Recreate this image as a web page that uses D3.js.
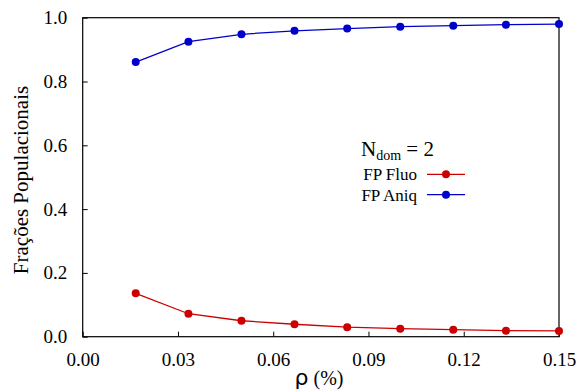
<!DOCTYPE html>
<html>
<head>
<meta charset="utf-8">
<script src="https://cdn.jsdelivr.net/npm/d3@7"></script>
<style>
  body { margin: 0; background: #fff; }
  svg text { font-family: "Liberation Serif", "DejaVu Serif", serif; }
</style>
</head>
<body>
<div id="chart"></div>
<script>
// data
var rho = [0.0167, 0.0333, 0.05, 0.0667, 0.0833, 0.1, 0.1167, 0.1333, 0.15];
var fpFluo = [0.136, 0.072, 0.050, 0.039, 0.030, 0.025, 0.022, 0.019, 0.018];
var fpAniq = [0.861, 0.925, 0.948, 0.959, 0.966, 0.972, 0.975, 0.978, 0.980];
var xTicks = [0, 0.03, 0.06, 0.09, 0.12, 0.15];
var yTicks = [0, 0.2, 0.4, 0.6, 0.8, 1.0];

var width = 577, height = 390;
var plotL = 82.7, plotR = 559, plotT = 17.7, plotB = 336.7;

var svg = d3.select("#chart").append("svg")
    .attr("width", width)
    .attr("height", height);

var x = d3.scaleLinear().domain([0, 0.15]).range([plotL, plotR]);
var y = d3.scaleLinear().domain([0, 1]).range([plotB, plotT]);

// axes, ticks pointing inward
svg.append("g")
    .attr("transform", "translate(0," + plotB + ")")
    .call(d3.axisBottom(x).tickValues(xTicks).tickFormat(d3.format(".2f"))
        .tickSizeInner(-5).tickSizeOuter(0).tickPadding(16));
svg.append("g")
    .attr("transform", "translate(" + plotL + ",0)")
    .call(d3.axisLeft(y).tickValues(yTicks).tickFormat(d3.format(".1f"))
        .tickSizeInner(-5).tickSizeOuter(0).tickPadding(15.5));

svg.selectAll(".tick text")
    .style("font-family", "'Liberation Serif', serif")
    .style("font-size", "19px")
    .attr("fill", "#000");
svg.selectAll(".domain").remove();
svg.selectAll(".tick line").attr("stroke", "#000");

// frame
svg.append("rect")
    .attr("x", plotL)
    .attr("y", plotT)
    .attr("width", plotR - plotL)
    .attr("height", plotB - plotT)
    .attr("fill", "none")
    .attr("stroke", "#000")
    .attr("stroke-width", 1.2);

// series
var series = [
    { name: "FP Fluo", values: fpFluo, color: "#cc0000" },
    { name: "FP Aniq", values: fpAniq, color: "#0000cc" }
];

var line = d3.line()
    .x(function(d, i) { return x(rho[i]); })
    .y(function(d) { return y(d); });

series.forEach(function(s) {
    svg.append("path")
        .attr("d", line(s.values))
        .attr("fill", "none")
        .attr("stroke", s.color)
        .attr("stroke-width", 1.3);
    svg.selectAll(null)
        .data(s.values)
        .enter().append("circle")
        .attr("cx", function(d, i) { return x(rho[i]); })
        .attr("cy", function(d) { return y(d); })
        .attr("r", 4)
        .attr("fill", s.color);
});

// axis titles
var xt = svg.append("text")
    .attr("x", 319)
    .attr("y", 385)
    .attr("text-anchor", "middle")
    .attr("font-size", 20);
xt.append("tspan").style("font-family", "'DejaVu Sans', sans-serif").attr("font-size", 22).text("ρ");
xt.append("tspan").text(" (%)");

svg.append("text")
    .attr("transform", "translate(28,180) rotate(-90)")
    .attr("text-anchor", "middle")
    .attr("font-size", 21)
    .text("Frações Populacionais");

// legend
var lg = svg.append("text")
    .attr("x", 361)
    .attr("y", 156)
    .attr("font-size", 21);
lg.append("tspan").text("N");
lg.append("tspan").attr("font-size", 14).attr("dy", 4).text("dom");
lg.append("tspan").attr("dy", -4).text(" = 2");

series.forEach(function(s, i) {
    var ly = 174.3 + i * 20.4;
    svg.append("text")
        .attr("x", 417)
        .attr("y", ly + 5.8)
        .attr("text-anchor", "end")
        .attr("font-size", 17)
        .text(s.name);
    svg.append("line")
        .attr("x1", 427).attr("x2", 465)
        .attr("y1", ly).attr("y2", ly)
        .attr("stroke", s.color)
        .attr("stroke-width", 1.3);
    svg.append("circle")
        .attr("cx", 446).attr("cy", ly)
        .attr("r", 4)
        .attr("fill", s.color);
});
</script>
</body>
</html>
